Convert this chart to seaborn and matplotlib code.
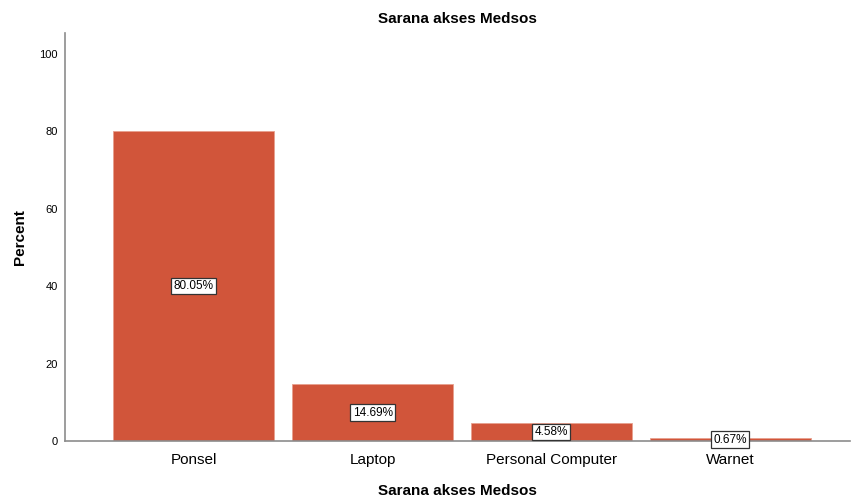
import pandas as pd
import seaborn as sns
import matplotlib.pyplot as plt

categories = ["Ponsel", "Laptop", "Personal Computer", "Warnet"]
percents = [80.05, 14.69, 4.58, 0.67]

df = pd.DataFrame({"Sarana akses Medsos": categories, "Percent": percents})

sns.set_style("white")
plt.rcParams["font.family"] = ["Liberation Sans", "DejaVu Sans"]
plt.rcParams["text.color"] = "black"
plt.rcParams["xtick.color"] = "black"
plt.rcParams["ytick.color"] = "black"
plt.rcParams["axes.labelcolor"] = "black"

fig = plt.figure(figsize=(8.51, 5.01), dpi=100)
ax = fig.add_axes([0.0764, 0.1198, 0.9225, 0.8142])

sns.barplot(data=df, x="Sarana akses Medsos", y="Percent", color="#D1553A",
            saturation=1, width=0.9, edgecolor="#E8A08E", linewidth=0.6, ax=ax)

# value labels at half height, boxed
for i, v in enumerate(percents):
    ax.text(i, v / 2, f"{v:.2f}%", ha="center", va="center", fontsize=8.5,
            bbox=dict(boxstyle="square,pad=0.2", facecolor="white",
                      edgecolor="#333333", linewidth=0.9))

ax.set_xlim(-0.72, 3.67)
ax.set_ylim(0, 105.3)
ax.set_yticks([0, 20, 40, 60, 80, 100])
ax.tick_params(axis="y", labelsize=8, length=0, pad=5)
ax.tick_params(axis="x", labelsize=11, length=0, pad=9)

for s in ["top", "right"]:
    ax.spines[s].set_visible(False)
for s in ["left", "bottom"]:
    ax.spines[s].set_color("#8c8c8c")
    ax.spines[s].set_linewidth(1.2)

ax.set_title("Sarana akses Medsos", fontsize=11, fontweight="bold", pad=7)
ax.set_xlabel("Sarana akses Medsos", fontsize=11, fontweight="bold", labelpad=12)
ax.set_ylabel("Percent", fontsize=11, fontweight="bold", labelpad=9)

fig.savefig("out.png", dpi=100)
